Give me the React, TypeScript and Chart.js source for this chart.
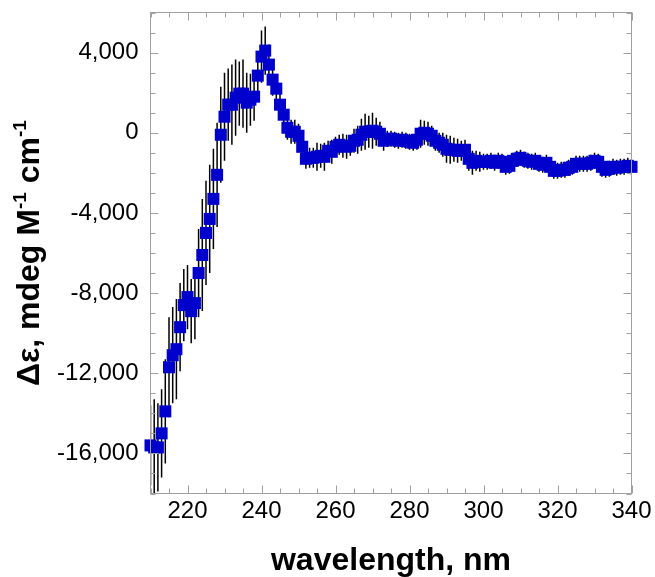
import React, { useEffect, useRef } from 'react';
import { Chart, registerables } from 'chart.js';

Chart.register(...registerables);

const wavelengths = [
  210, 211, 212, 213, 214, 215, 216, 217, 218, 219,
  220, 221, 222, 223, 224, 225, 226, 227, 228, 229,
  230, 231, 232, 233, 234, 235, 236, 237, 238, 239,
  240, 241, 242, 243, 244, 245, 246, 247, 248, 249,
  250, 251, 252, 253, 254, 255, 256, 257, 258, 259,
  260, 261, 262, 263, 264, 265, 266, 267, 268, 269,
  270, 271, 272, 273, 274, 275, 276, 277, 278, 279,
  280, 281, 282, 283, 284, 285, 286, 287, 288, 289,
  290, 291, 292, 293, 294, 295, 296, 297, 298, 299,
  300, 301, 302, 303, 304, 305, 306, 307, 308, 309,
  310, 311, 312, 313, 314, 315, 316, 317, 318, 319,
  320, 321, 322, 323, 324, 325, 326, 327, 328, 329,
  330, 331, 332, 333, 334, 335, 336, 337, 338, 339,
  340,
];

const deltaEpsilon = [
  -15600, -15700, -15700, -15000, -13900, -11700, -11100, -10800, -9700, -8600,
  -8200, -8900, -8500, -7000, -6100, -5000, -4300, -3300, -2100, -100,
  800, 1400, 1400, 1750, 1950, 1950, 1500, 1650, 1800, 2850,
  3800, 4100, 3400, 2650, 2200, 1400, 900, 250, 50, 50,
  -150, -700, -1300, -1250, -1250, -1200, -1150, -1200, -900, -950,
  -700, -600, -650, -700, -650, -400, -350, -100, 50, 50,
  100, 50, -50, -400, -300, -300, -350, -400, -350, -400,
  -450, -500, -350, -50, 0, -50, -150, -400, -500, -600,
  -800, -850, -850, -900, -900, -850, -1300, -1500, -1400, -1450,
  -1450, -1450, -1400, -1500, -1400, -1450, -1700, -1650, -1400, -1300,
  -1250, -1350, -1400, -1450, -1400, -1550, -1600, -1500, -1700, -1900,
  -1900, -1850, -1850, -1750, -1700, -1550, -1550, -1550, -1550, -1500,
  -1400, -1450, -1700, -1850, -1800, -1700, -1750, -1700, -1700, -1650,
  -1700,
];

const errors = [
  2000, 2400, 2200, 2200, 2600, 2500, 2400, 2500, 2200, 1800,
  1600, 1600, 1800, 2200, 2800, 2600, 2700, 2500, 2600, 2400,
  2200, 1800, 2000, 1900, 1600, 1700, 1500, 1300, 1200, 1200,
  1300, 1200, 1000, 800, 700, 700, 600, 600, 600, 600,
  600, 500, 500, 500, 500, 700, 600, 700, 500, 600,
  500, 500, 600, 600, 500, 600, 700, 800, 900, 800,
  900, 700, 600, 500, 400, 400, 400, 400, 400, 400,
  400, 400, 500, 700, 600, 600, 500, 500, 500, 600,
  700, 700, 600, 600, 500, 500, 600, 600, 500, 500,
  400, 400, 400, 400, 400, 400, 400, 400, 400, 400,
  400, 400, 400, 400, 400, 400, 400, 400, 400, 400,
  400, 400, 400, 400, 400, 400, 400, 400, 400, 400,
  400, 400, 500, 400, 400, 400, 400, 400, 400, 400,
  400,
];

const xTickValues = [220, 240, 260, 280, 300, 320, 340];
const yTickValues = [-16000, -12000, -8000, -4000, 0, 4000];
const xMinorTicks = [
  210, 215, 220, 225, 230, 235, 240, 245, 250, 255, 260, 265, 270, 275,
  280, 285, 290, 295, 300, 305, 310, 315, 320, 325, 330, 335, 340,
];
const yMinorTicks = [
  -18000, -17000, -16000, -15000, -14000, -13000, -12000, -11000, -10000,
  -9000, -8000, -7000, -6000, -5000, -4000, -3000, -2000, -1000, 0,
  1000, 2000, 3000, 4000, 5000, 6000,
];

const xTitle = 'wavelength, nm';
const yTitleParts = [
  { text: 'Δε, mdeg M', sup: false },
  { text: '-1', sup: true },
  { text: ' cm', sup: false },
  { text: '-1', sup: true },
];

const FONT = '"Liberation Sans", Arial, Helvetica, sans-serif';

const errorBarPlugin = {
  id: 'errorBars',
  beforeDatasetsDraw(chart: any) {
    const { ctx, scales, chartArea } = chart;
    const xs = scales.x;
    const ys = scales.y;
    ctx.save();
    ctx.beginPath();
    ctx.rect(chartArea.left, chartArea.top, chartArea.right - chartArea.left, chartArea.bottom - chartArea.top);
    ctx.clip();
    ctx.strokeStyle = '#000000';
    ctx.lineWidth = 1.5;
    for (let i = 0; i < wavelengths.length; i++) {
      const px = xs.getPixelForValue(wavelengths[i]);
      const y1 = ys.getPixelForValue(deltaEpsilon[i] + errors[i]);
      const y2 = ys.getPixelForValue(deltaEpsilon[i] - errors[i]);
      ctx.beginPath();
      ctx.moveTo(px, y1);
      ctx.lineTo(px, y2);
      ctx.stroke();
    }
    ctx.restore();
  },
};

const framePlugin = {
  id: 'frame',
  afterDraw(chart: any) {
    const { ctx, scales, chartArea } = chart;
    const xs = scales.x;
    const ys = scales.y;
    const { left, right, top, bottom } = chartArea;
    ctx.save();
    ctx.strokeStyle = '#a0a0a0';
    ctx.lineWidth = 1;
    ctx.strokeRect(left, top, right - left, bottom - top);
    ctx.beginPath();
    for (const v of xMinorTicks) {
      const len = xTickValues.includes(v) ? 8 : 5;
      const px = Math.round(xs.getPixelForValue(v)) + 0.5;
      ctx.moveTo(px, bottom);
      ctx.lineTo(px, bottom - len);
      ctx.moveTo(px, top);
      ctx.lineTo(px, top + len);
    }
    for (const v of yMinorTicks) {
      const len = yTickValues.includes(v) ? 8 : 5;
      const py = Math.round(ys.getPixelForValue(v)) + 0.5;
      ctx.moveTo(left, py);
      ctx.lineTo(left + len, py);
      ctx.moveTo(right, py);
      ctx.lineTo(right - len, py);
    }
    ctx.stroke();

    // axis titles
    ctx.fillStyle = '#000000';
    ctx.font = `bold 32px ${FONT}`;
    ctx.textAlign = 'center';
    ctx.textBaseline = 'alphabetic';
    ctx.fillText(xTitle, (left + right) / 2, 570);

    // y title with superscripts
    const mainFont = `bold 32px ${FONT}`;
    const supFont = `bold 19px ${FONT}`;
    let total = 0;
    const widths: number[] = [];
    for (const p of yTitleParts) {
      ctx.font = p.sup ? supFont : mainFont;
      const w = ctx.measureText(p.text).width;
      widths.push(w);
      total += w;
    }
    ctx.translate(39, (top + bottom) / 2);
    ctx.rotate(-Math.PI / 2);
    ctx.textAlign = 'left';
    let x = -total / 2;
    yTitleParts.forEach((p, i) => {
      ctx.font = p.sup ? supFont : mainFont;
      ctx.fillText(p.text, x, p.sup ? -13 : 0);
      x += widths[i];
    });
    ctx.restore();
  },
};

export default function App() {
  const canvasRef = useRef<HTMLCanvasElement | null>(null);

  useEffect(() => {
    if (!canvasRef.current) return;
    const chart = new Chart(canvasRef.current, {
      type: 'scatter',
      data: {
        datasets: [
          {
            data: wavelengths.map((w, i) => ({ x: w, y: deltaEpsilon[i] })),
            pointStyle: 'rect',
            pointRadius: 8.5,
            pointHoverRadius: 8.5,
            backgroundColor: '#0000cd',
            borderColor: '#0000cd',
            borderWidth: 0,
            clip: false,
          } as any,
        ],
      },
      options: {
        responsive: false,
        animation: false,
        events: [],
        layout: { padding: { top: 12.5, right: 23.5, left: 0, bottom: 0 } },
        plugins: {
          legend: { display: false },
          tooltip: { enabled: false },
          title: { display: false },
        },
        scales: {
          x: {
            type: 'linear',
            min: 210,
            max: 340,
            grid: { display: false, drawTicks: false },
            border: { display: false },
            afterFit: (scale: any) => {
              scale.height = 83.5;
              scale.paddingLeft = 0;
              scale.paddingRight = 0;
              scale.paddingTop = 0;
              scale.paddingBottom = 0;
            },
            afterBuildTicks: (scale: any) => {
              scale.ticks = xTickValues.map((v) => ({ value: v }));
            },
            ticks: {
              color: '#000000',
              padding: 6,
              maxRotation: 0,
              autoSkip: false,
              font: { family: FONT, size: 24, lineHeight: 1 },
              callback: (v: any) => String(v),
            },
          },
          y: {
            type: 'linear',
            min: -18000,
            max: 6000,
            grid: { display: false, drawTicks: false },
            border: { display: false },
            afterFit: (scale: any) => {
              scale.width = 150.5;
              scale.paddingLeft = 0;
              scale.paddingRight = 0;
              scale.paddingTop = 0;
              scale.paddingBottom = 0;
            },
            afterBuildTicks: (scale: any) => {
              scale.ticks = yTickValues.map((v) => ({ value: v }));
            },
            ticks: {
              color: '#000000',
              padding: 12,
              autoSkip: false,
              font: { family: FONT, size: 24, lineHeight: 1 },
              callback: (v: any) => Number(v).toLocaleString('en-US'),
            },
          },
        },
      },
      plugins: [errorBarPlugin, framePlugin],
    });
    return () => chart.destroy();
  }, []);

  return (
    <div style={{ position: 'fixed', left: 0, top: 0, width: 655, height: 577, background: '#ffffff' }}>
      <canvas ref={canvasRef} width={655} height={577} style={{ display: 'block' }} />
    </div>
  );
}
